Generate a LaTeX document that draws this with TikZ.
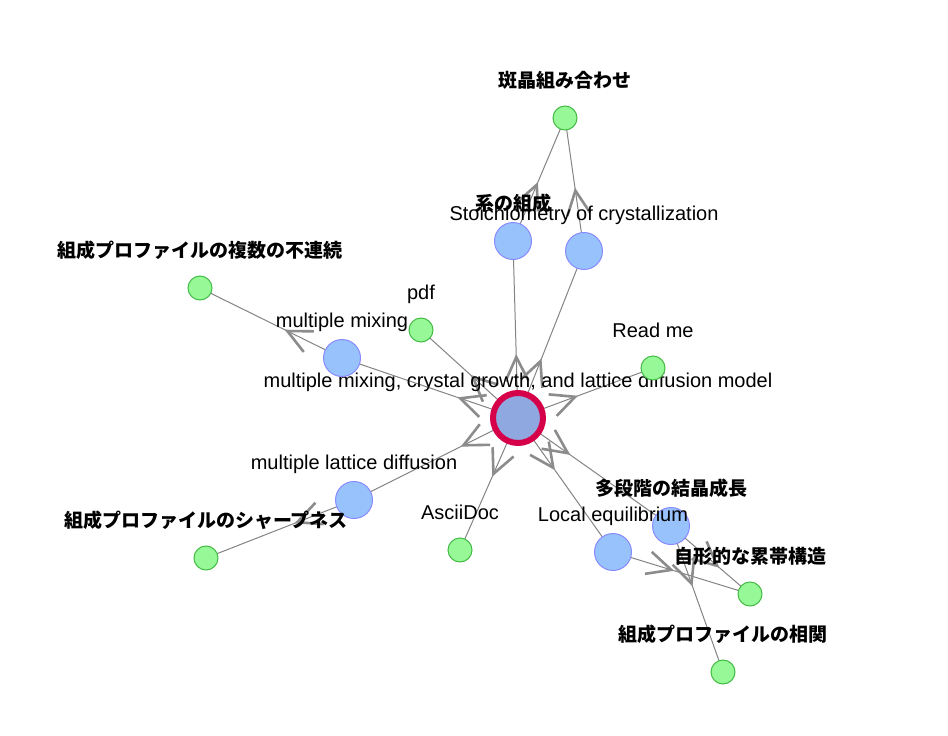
\documentclass[tikz,border=0pt]{standalone}
\usepackage{fontspec}
\setmainfont{Liberation Sans}
\newfontfamily\cjk{Noto Sans CJK JP}
\usetikzlibrary{decorations.markings,backgrounds}
\definecolor{edgegray}{HTML}{848484}
\definecolor{tipgray}{HTML}{8C8C8C}
\definecolor{gfill}{HTML}{97F897}
\definecolor{gline}{HTML}{44BB44}
\definecolor{bfill}{HTML}{97C2FC}
\definecolor{bline}{HTML}{8A8AFF}
\definecolor{cfill}{HTML}{8FA8E0}
\definecolor{cline}{HTML}{D6004A}
\tikzset{
  gnode/.style={circle, fill=gfill, draw=gline, line width=1pt, minimum size=24pt, inner sep=0pt},
  bnode/.style={circle, fill=bfill, draw=bline, line width=1pt, minimum size=37pt, inner sep=0pt},
  cnode/.style={circle, fill=cfill, draw=cline, line width=6pt, minimum size=50pt, inner sep=0pt},
  lab/.style={font=\fontsize{20}{24}\selectfont, text=black, inner sep=0pt, anchor=base},
  jlab/.style={font=\cjk\bfseries\fontsize{19}{23}\selectfont, text=black, inner sep=0pt, anchor=base},
  link/.style={draw=edgegray, line width=1pt, postaction={decorate},
    decoration={markings, mark=at position 61pt with {\draw[tipgray, line width=2.6pt, line cap=butt, line join=miter] (-24pt,11.5pt) -- (0pt,0pt) -- (-24pt,-11.5pt);}}}
}
\begin{document}
\begin{tikzpicture}[x=1pt,y=-1pt]
\useasboundingbox (0,0) rectangle (948,736);
% nodes and labels
\node[cnode] (C) at (518,418) {};
\node[lab] (Cl) at (518,387) {multiple mixing, crystal growth, and lattice diffusion model};
\node[gnode] (G1) at (565,118) {};
\node[jlab] (G1l) at (565,87) {斑晶組み合わせ};
\node[bnode] (B1) at (513,241) {};
\node[jlab] (B1l) at (513,210) {系の組成};
\node[bnode] (B2) at (584,251) {};
\node[lab] (B2l) at (584,220) {Stoichiometry of crystallization};
\node[gnode] (G2) at (200,288) {};
\node[jlab] (G2l) at (200,257) {組成プロファイルの複数の不連続};
\node[gnode] (G3) at (421,330) {};
\node[lab] (G3l) at (421,299) {pdf};
\node[bnode] (B3) at (342,358) {};
\node[lab] (B3l) at (342,327) {multiple mixing};
\node[gnode] (G4) at (653,368) {};
\node[lab] (G4l) at (653,337) {Read me};
\node[bnode] (B4) at (354,500) {};
\node[lab] (B4l) at (354,469) {multiple lattice diffusion};
\node[gnode] (G5) at (206,558) {};
\node[jlab] (G5l) at (206,527) {組成プロファイルのシャープネス};
\node[gnode] (G6) at (460,550) {};
\node[lab] (G6l) at (460,519) {AsciiDoc};
\node[bnode] (B6) at (671,526) {};
\node[jlab] (B6l) at (671,495) {多段階の結晶成長};
\node[bnode] (B5) at (613,552) {};
\node[lab] (B5l) at (613,521) {Local equilibrium};
\node[gnode] (G7) at (750,594) {};
\node[jlab] (G7l) at (750,563) {自形的な累帯構造};
\node[gnode] (G8) at (723,672) {};
\node[jlab] (G8l) at (723,641) {組成プロファイルの相関};
% edges
\begin{scope}[on background layer]
\fill[white] (0,0) rectangle (948,736);
\draw[link] (C.center) -- (B1.center);
\draw[link] (C.center) -- (B2.center);
\draw[link] (C.center) -- (G3.center);
\draw[link] (C.center) -- (B3.center);
\draw[link] (C.center) -- (G4.center);
\draw[link] (C.center) -- (B4.center);
\draw[link] (C.center) -- (G6.center);
\draw[link] (C.center) -- (B5.center);
\draw[link] (C.center) -- (B6.center);
\draw[link] (B1.center) -- (G1.center);
\draw[link] (B2.center) -- (G1.center);
\draw[link] (B3.center) -- (G2.center);
\draw[link] (B4.center) -- (G5.center);
\draw[link] (B5.center) -- (G7.center);
\draw[link] (B6.center) -- (G7.center);
\draw[link] (B6.center) -- (G8.center);
\end{scope}
\end{tikzpicture}
\end{document}
